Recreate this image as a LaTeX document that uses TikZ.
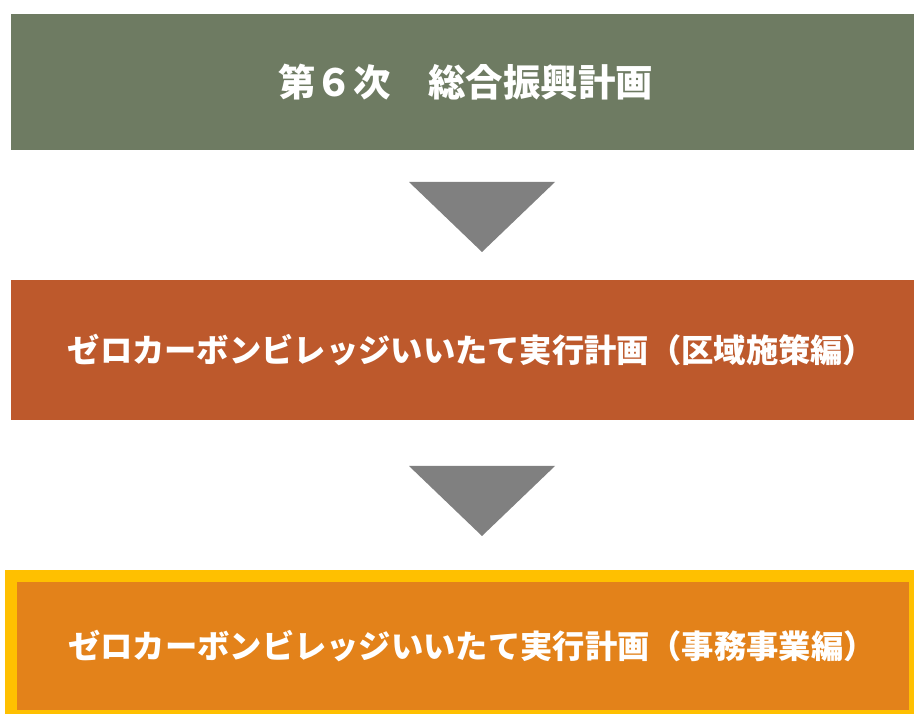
\documentclass[tikz,border=0pt]{standalone}
\usepackage{fontspec}
\newfontfamily\jp{Noto Sans CJK JP}
\definecolor{topc}{HTML}{6E7B62}
\definecolor{midc}{HTML}{BD592C}
\definecolor{botc}{HTML}{E3821A}
\definecolor{bord}{HTML}{FFC000}
\definecolor{arr}{HTML}{808080}
\tikzset{
  planbox/.style={rectangle, minimum width=903pt, minimum height=#1, inner sep=0pt},
  plantext/.style={inner sep=0pt, text=white, font=\jp\bfseries\fontsize{32.3}{36}\selectfont},
  downtri/.style={fill=arr}
}
\begin{document}
\begin{tikzpicture}[x=1pt,y=1pt]
\useasboundingbox (0,0) rectangle (914,713);
\node[planbox=136pt, fill=topc] (plan) at (462.5,631) {};
\node[plantext, font=\jp\bfseries\fontsize{37.5}{40}\selectfont] (plant) at ([xshift=3pt]plan.center) {第６次　総合振興計画};
\node[planbox=140pt, fill=midc] (area) at (462.5,363) {};
\node[plantext] (areat) at ([xshift=9pt]area.center) {ゼロカーボンビレッジいいたて実行計画（区域施策編）};
\fill[botc, draw=bord, line width=12pt] (11,137) rectangle (915,-3);
\coordinate (office) at (463,67);
\node[plantext] (officet) at ([xshift=9pt]office) {ゼロカーボンビレッジいいたて実行計画（事務事業編）};
\fill[downtri] (409,531) -- (555,531) -- (482,461) -- cycle;
\fill[downtri] (409,247) -- (555,247) -- (482,177) -- cycle;
\end{tikzpicture}
\end{document}
